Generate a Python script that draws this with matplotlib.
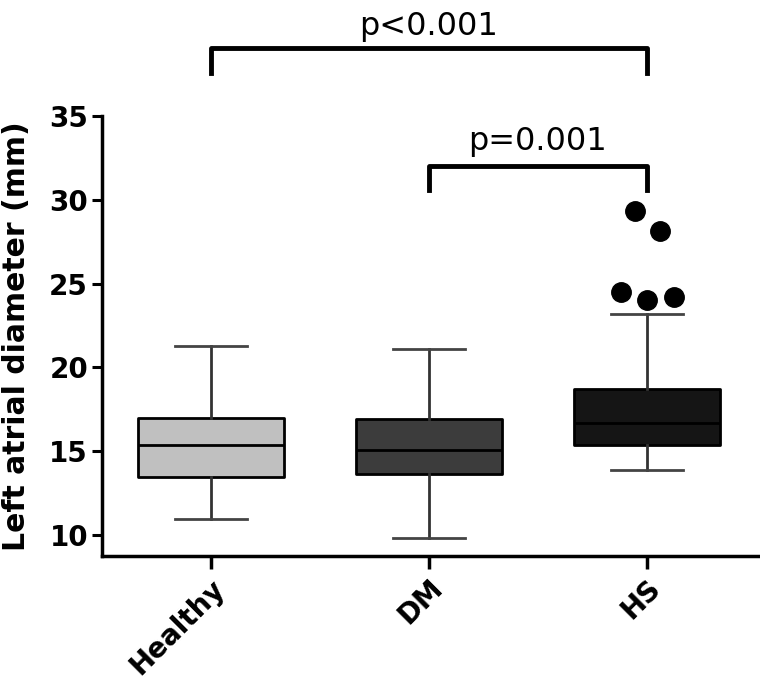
import matplotlib
matplotlib.use("Agg")
import matplotlib.pyplot as plt

# box summary values (mm)
groups = ["Healthy", "DM", "HS"]
whisker_low = [10.95, 9.85, 13.9]
q1 = [13.45, 13.65, 15.4]
median = [15.4, 15.1, 16.7]
q3 = [17.0, 16.9, 18.7]
whisker_high = [21.3, 21.1, 23.2]

# HS outliers
hs_outliers = [29.35, 28.15, 24.5, 24.0, 24.2]
hs_jitter = [-0.055, 0.063, -0.116, 0.0, 0.125]

box_colors = ["#c0c0c0", "#3c3c3c", "#151515"]

fig = plt.figure(figsize=(7.6, 6.79), dpi=100)
ax = fig.add_axes([0.1342, 0.1811, 0.8658, 0.648])

positions = [1, 2, 3]
stats = []
for i, g in enumerate(groups):
    stats.append(dict(label=g, whislo=whisker_low[i], q1=q1[i], med=median[i],
                      q3=q3[i], whishi=whisker_high[i], fliers=[]))

bp = ax.bxp(stats, positions=positions, widths=0.67, capwidths=0.33,
            patch_artist=True, showfliers=False,
            boxprops=dict(edgecolor="black", linewidth=2.0),
            whiskerprops=dict(color="#333333", linewidth=2.0),
            capprops=dict(color="#444444", linewidth=2.0),
            medianprops=dict(color="black", linewidth=2.0))
for patch, c in zip(bp["boxes"], box_colors):
    patch.set_facecolor(c)
    patch.set_joinstyle("round")

ax.plot([3 + j for j in hs_jitter], hs_outliers, "o", color="black",
        markersize=14, clip_on=False, zorder=5)

ax.set_xlim(0.5, 3.52)
ax.set_ylim(8.75, 35)
ax.set_yticks([10, 15, 20, 25, 30, 35])
ax.set_xticks(positions)
ax.set_xticklabels(groups, rotation=45, ha="right", rotation_mode="anchor",
                   fontsize=20, fontweight="bold")
for lab in ax.get_yticklabels():
    lab.set_fontsize(20)
    lab.set_fontweight("bold")

ax.spines["top"].set_visible(False)
ax.spines["right"].set_visible(False)
ax.spines["left"].set_linewidth(2.5)
ax.spines["bottom"].set_linewidth(2.5)
ax.tick_params(axis="y", length=7, width=2.2, pad=3)
ax.tick_params(axis="x", length=9, width=2.5, pad=4)
ax.set_ylabel("Left atrial diameter (mm)", fontsize=21.5, fontweight="bold", labelpad=13)

# significance brackets
def bracket(x1, x2, y_top, y_end, label, y_text):
    ax.plot([x1, x1, x2, x2], [y_end, y_top, y_top, y_end], color="black",
            linewidth=3.5, solid_joinstyle="round", clip_on=False)
    ax.text((x1 + x2) / 2, y_text, label, ha="center", va="baseline",
            fontsize=23)

bracket(1, 3, 39.06, 37.55, "p<0.001", 39.83)
bracket(2, 3, 32.03, 30.6, "p=0.001", 32.97)

fig.savefig("out.png", dpi=100)
